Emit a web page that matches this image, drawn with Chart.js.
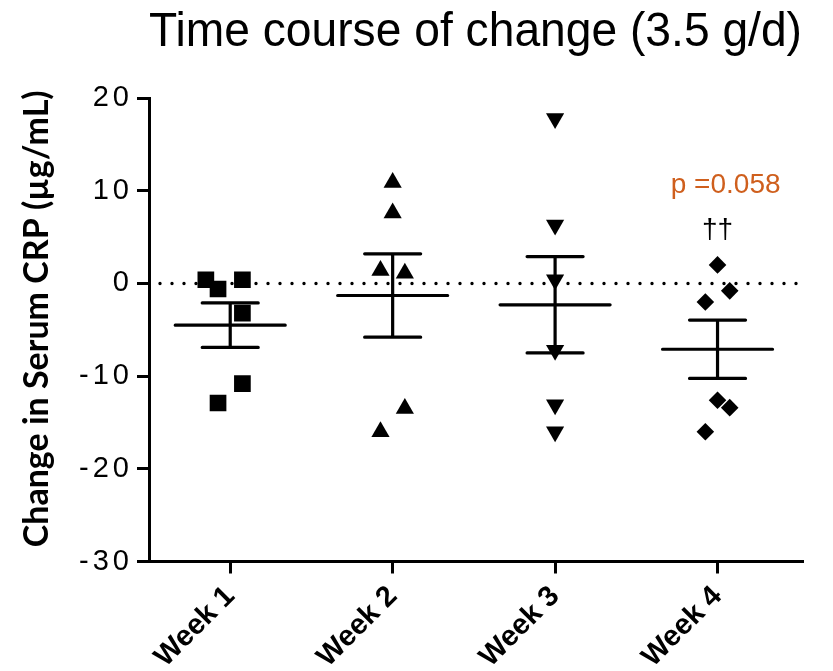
<!DOCTYPE html>
<html>
<head>
<meta charset="utf-8">
<script src="https://cdn.jsdelivr.net/npm/chart.js@4"></script>
<style>
  html, body { margin: 0; padding: 0; background: #fff; }
  #wrap { width: 833px; height: 671px; }
</style>
</head>
<body>
<div id="wrap"><canvas id="c" width="833" height="671"></canvas></div>
<script>
// Categories and axis ticks
const weeks = ['Week 1', 'Week 2', 'Week 3', 'Week 4'];
const yTickValues = [-30, -20, -10, 0, 10, 20];

// Individual changes in serum CRP (µg/mL) per subject, by week
const week1Values = [0.4, -0.6, 0.4, -3.2, -10.8, -12.9];
const week2Values = [10.9, 7.6, 1.4, 1.1, -13.5, -16.0];
const week3Values = [17.8, 6.3, 0.4, -7.2, -13.1, -16.0];
const week4Values = [2.0, -0.8, -2.0, -12.6, -13.4, -16.0];

// Group mean and standard error of the mean
const means = [-4.5, -1.3, -2.3, -7.1];
const sems = [2.4, 4.5, 5.2, 3.15];

// Annotation for week 4
const pValueText = 'p =0.058';
const daggerText = '\u2020\u2020';

// Horizontal spread (in category units) so coincident markers stay visible
const spread = [
  [-0.15, -0.075, 0.075, 0.075, 0.075, -0.075],
  [0, 0, -0.075, 0.075, 0.075, -0.075],
  [0, 0, 0, 0, 0, 0],
  [0, 0.075, -0.075, 0, 0.075, -0.075]
];

const allValues = [week1Values, week2Values, week3Values, week4Values];
const markerStyle = ['rect', 'triangle', 'triangle', 'rectRot'];
const markerRotation = [0, 0, 180, 0];
const markerRadius = [11.8, 10.5, 10.5, 8.8];

const datasets = allValues.map((vals, g) => ({
  label: weeks[g],
  data: vals.map((v, i) => ({ x: g + 1 + spread[g][i], y: v })),
  pointStyle: markerStyle[g],
  rotation: markerRotation[g],
  pointRadius: markerRadius[g],
  pointBackgroundColor: '#000',
  pointBorderColor: '#000',
  pointBorderWidth: 0,
  showLine: false
}));

const BLACK = '#000';

// Dotted zero reference, mean ± SEM bars and the week-4 annotation
const summaryPlugin = {
  id: 'summaryMarks',
  beforeDatasetsDraw(chart) {
    const { ctx, chartArea, scales: { y } } = chart;
    const py = y.getPixelForValue(0);
    ctx.save();
    ctx.strokeStyle = BLACK;
    ctx.lineWidth = 3.4;
    ctx.lineCap = 'round';
    ctx.setLineDash([0, 12]);
    ctx.beginPath();
    ctx.moveTo(chartArea.left + 11, py);
    ctx.lineTo(chartArea.right - 2, py);
    ctx.stroke();
    ctx.restore();
  },
  afterDatasetsDraw(chart) {
    const { ctx, scales: { x, y } } = chart;
    ctx.save();
    ctx.strokeStyle = BLACK;
    ctx.lineWidth = 3.2;
    ctx.lineCap = 'round';
    means.forEach((m, g) => {
      const cx = x.getPixelForValue(g + 1);
      const pm = y.getPixelForValue(m);
      const pHi = y.getPixelForValue(m + sems[g]);
      const pLo = y.getPixelForValue(m - sems[g]);
      ctx.beginPath();
      ctx.moveTo(cx - 55, pm); ctx.lineTo(cx + 55, pm);
      ctx.moveTo(cx - 28, pHi); ctx.lineTo(cx + 28, pHi);
      ctx.moveTo(cx - 28, pLo); ctx.lineTo(cx + 28, pLo);
      ctx.moveTo(cx, pHi); ctx.lineTo(cx, pLo);
      ctx.stroke();
    });
    ctx.restore();
  },
  afterDraw(chart) {
    const { ctx, scales: { x, y } } = chart;
    ctx.save();
    ctx.textAlign = 'center';
    ctx.textBaseline = 'alphabetic';
    ctx.font = '28px "Liberation Sans", Arial, sans-serif';
    ctx.fillStyle = '#CF5F1D';
    ctx.fillText(pValueText, x.getPixelForValue(4.05), y.getPixelForValue(9.8));
    ctx.fillStyle = BLACK;
    ctx.fillText(daggerText, x.getPixelForValue(4.0), y.getPixelForValue(4.9));
    ctx.restore();
  }
};

// Wider character spacing for the value-axis numbers; axis title sits a little above centre
const yAxisStylePlugin = {
  id: 'yAxisStyle',
  beforeDraw(chart) {
    const s = chart.scales.y;
    if (s && !s.__styled) {
      const origLabels = s.drawLabels;
      s.drawLabels = function (area) {
        const c = this.ctx;
        c.save();
        c.letterSpacing = '4px';
        origLabels.call(this, area);
        c.restore();
      };
      const origTitle = s.drawTitle;
      s.drawTitle = function () {
        const c = this.ctx;
        c.save();
        c.translate(0, -11);
        origTitle.apply(this, arguments);
        c.restore();
      };
      s.__styled = true;
    }
  }
};

new Chart(document.getElementById('c'), {
  type: 'scatter',
  data: { datasets },
  options: {
    responsive: false,
    animation: false,
    events: [],
    layout: { padding: { left: 0, right: 31, top: 0, bottom: 0 } },
    plugins: {
      legend: { display: false },
      tooltip: { enabled: false },
      title: {
        display: true,
        text: 'Time course of change (3.5 g/d)',
        fullSize: false,
        color: BLACK,
        font: { family: '"Liberation Sans", Arial, sans-serif', size: 48, weight: 'normal', lineHeight: 1.2 },
        padding: { top: 4, bottom: 36.5 }
      }
    },
    scales: {
      x: {
        type: 'linear',
        min: 0.5,
        max: 4.52,
        afterBuildTicks: (s) => { s.ticks = weeks.map((w, i) => ({ value: i + 1 })); },
        afterFit: (s) => { s.height = 109.5; },
        ticks: {
          callback: (v) => weeks[Math.round(v) - 1],
          minRotation: 45,
          maxRotation: 45,
          autoSkip: false,
          color: BLACK,
          padding: 6,
          font: { family: '"Liberation Sans", Arial, sans-serif', size: 29, weight: 'bold' }
        },
        grid: { drawOnChartArea: false, color: BLACK, lineWidth: 3, tickLength: 12 },
        border: { color: BLACK, width: 3 }
      },
      y: {
        min: -30,
        max: 20,
        afterBuildTicks: (s) => { s.ticks = yTickValues.map(v => ({ value: v })); },
        afterFit: (s) => { s.width = 149; },
        ticks: {
          color: BLACK,
          padding: 4,
          font: { family: '"Liberation Sans", Arial, sans-serif', size: 29, weight: 'normal' }
        },
        grid: { drawOnChartArea: false, color: BLACK, lineWidth: 3, tickLength: 12 },
        border: { color: BLACK, width: 3 },
        title: {
          display: true,
          text: 'Change in Serum CRP (µg/mL)',
          color: BLACK,
          font: { family: 'Lato, "Open Sans", sans-serif', size: 34, weight: 'bold', lineHeight: 1.2 },
          padding: { top: 17, bottom: 0 }
        }
      }
    }
  },
  plugins: [summaryPlugin, yAxisStylePlugin]
});
</script>
</body>
</html>
